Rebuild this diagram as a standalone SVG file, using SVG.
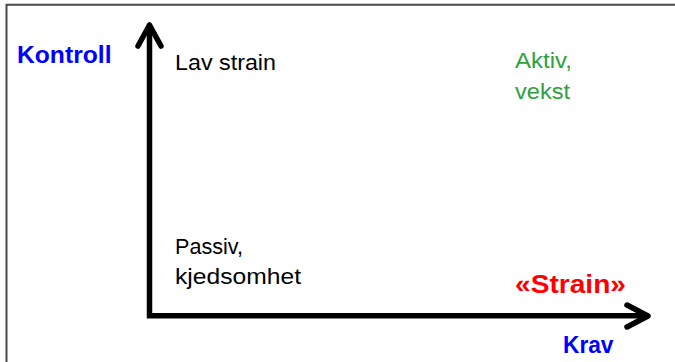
<svg xmlns="http://www.w3.org/2000/svg" width="675" height="362" viewBox="0 0 675 362">
  <style>
    .lbl { font-family: "Liberation Sans", Arial, sans-serif; font-size: 22.5px; fill: #000; }
    .bold { font-family: "Liberation Sans", Arial, sans-serif; font-weight: bold; }
    .axis { fill: none; stroke: #000; stroke-width: 5.5; stroke-linejoin: miter; }
    .head { fill: none; stroke: #000; stroke-width: 5.5; stroke-linecap: round; stroke-linejoin: round; }
  </style>
  <rect width="675" height="362" fill="#fff"/>
  <!-- frame -->
  <path d="M6.5,362 V4.8 H675" fill="none" stroke="#4a4a4a" stroke-width="2"/>

  <g id="connectors">
    <!-- axes sharing the origin corner -->
    <path class="axis" d="M149.5,27 V315.8 H647"/>
    <path class="head" d="M138,46 L149.5,25 L161,46"/>
    <path class="head" d="M627,305 L648,316 L627,327"/>
  </g>

  <g id="axis-y-label">
    <text class="bold" x="17" y="63.3" font-size="24.5" fill="#0000ff" textLength="94.5" lengthAdjust="spacingAndGlyphs">Kontroll</text>
  </g>
  <g id="axis-x-label">
    <text class="bold" x="563" y="352.7" font-size="24.5" fill="#0000ff" textLength="50.5" lengthAdjust="spacingAndGlyphs">Krav</text>
  </g>
  <g id="strain">
    <text class="bold" x="515" y="292.7" font-size="25.5" fill="#ff0000" textLength="111" lengthAdjust="spacingAndGlyphs">«Strain»</text>
  </g>
  <g id="lav-strain">
    <text class="lbl" x="175" y="70" textLength="101" lengthAdjust="spacingAndGlyphs">Lav strain</text>
  </g>
  <g id="aktiv">
    <text class="lbl" x="515" y="68" fill="#30a03c" style="fill:#30a03c" textLength="57" lengthAdjust="spacingAndGlyphs">Aktiv,</text>
    <text class="lbl" x="515" y="99.3" style="fill:#30a03c" textLength="55" lengthAdjust="spacingAndGlyphs">vekst</text>
  </g>
  <g id="passiv">
    <text class="lbl" x="175" y="254.3" textLength="68" lengthAdjust="spacingAndGlyphs">Passiv,</text>
    <text class="lbl" x="175" y="284.3" textLength="126" lengthAdjust="spacingAndGlyphs">kjedsomhet</text>
  </g>
</svg>
